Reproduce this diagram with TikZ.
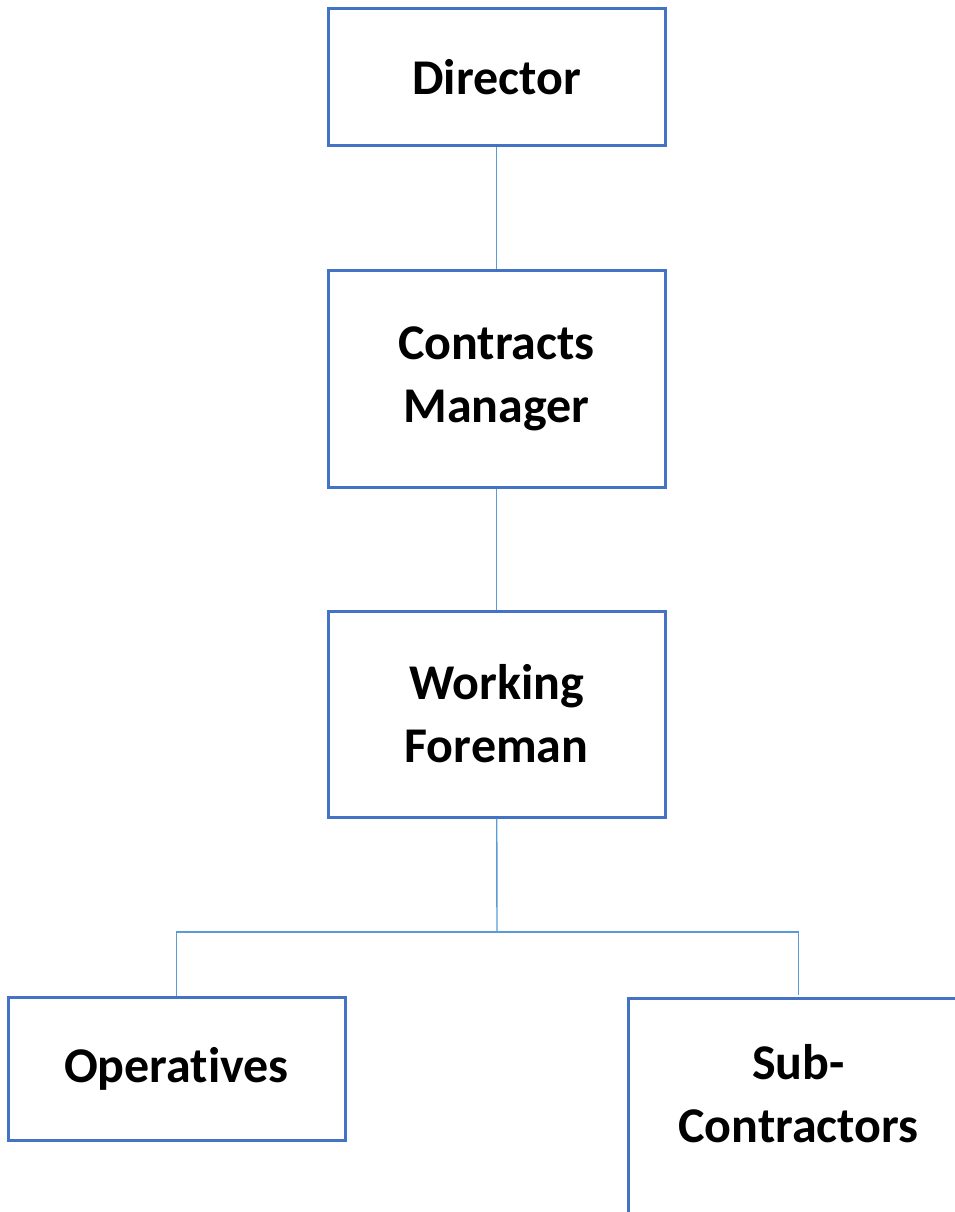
\documentclass[tikz,border=0pt]{standalone}
\usepackage{fontspec}
\setmainfont{Carlito}[Ligatures=NoCommon]
\definecolor{boxblue}{HTML}{4472C4}
\definecolor{lineblue}{HTML}{5B9BD5}
\tikzset{
  post/.style={draw=boxblue, line width=3pt, minimum width=337pt, align=center,
    font=\fontsize{50}{63}\selectfont\bfseries, inner sep=0pt},
  link/.style={draw=lineblue, line width=1.4pt}
}
\begin{document}
\begin{tikzpicture}[x=1pt,y=-1pt]
\useasboundingbox (0,0) rectangle (955,1212);
\clip (0,0) rectangle (955,1212);

\node[post, minimum height=136pt] (dir) at (496.5,77) {Director};
\node[post, minimum height=217pt] (cm) at (496.5,378.5) {Contracts\\Manager};
\node[post, minimum height=206pt] (wf) at (496.5,714) {Working\\Foreman};
\node[post, minimum height=143pt] (ops) at (176.5,1068.5) {Operatives};
% box runs off the page at right and bottom
\node[post, draw=none, minimum height=188pt] (sub) at (798.5,1094) {Sub-\\Contractors};
\draw[boxblue, line width=3pt] (sub.north west) rectangle ++(337,300);

\coordinate (fork) at (497,932);

\draw[link] (dir) -- (cm);
\draw[link] (cm) -- (wf);
\draw[link] (wf) -- (fork);
\draw[link] (fork) -| (ops.north);
\draw[link] (fork) -| ([yshift=4pt]sub.north);
\end{tikzpicture}
\end{document}
